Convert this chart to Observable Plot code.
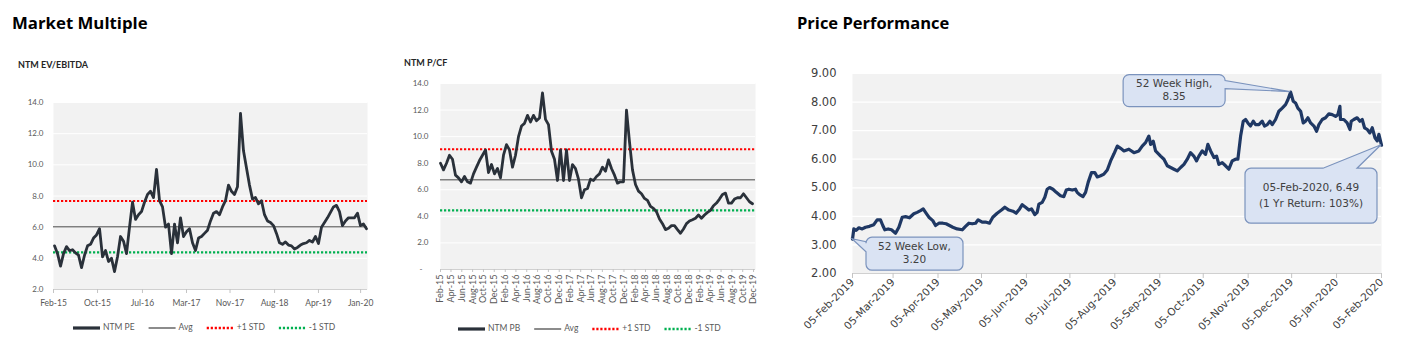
<!DOCTYPE html>
<html><head><meta charset="utf-8">
<script src="https://cdn.jsdelivr.net/npm/d3@7"></script>
<script src="https://cdn.jsdelivr.net/npm/@observablehq/plot@0.6"></script>
<style>
html,body{margin:0;padding:0;background:#fff}
body{width:1404px;height:357px;overflow:hidden;position:relative;font-family:Lato,sans-serif}
.chart{position:absolute}
#overlay{position:absolute;left:0;top:0;pointer-events:none}
</style></head><body>
<div id="ev" class="chart" style="left:0px;top:90px"></div>
<div id="pb" class="chart" style="left:390px;top:75px"></div>
<div id="px" class="chart" style="left:780px;top:60px"></div>
<svg id="overlay" width="1404" height="357"></svg>
<script>
// ---------------- DATA ----------------
// NTM EV/EBITDA (evenly spaced observations, Feb-2015 .. Jan-2020)
const evStart = "2015-02-12", evEnd = "2020-01-30";
const evValues = [4.8,4.3,3.5,4.3,4.75,4.5,4.55,4.35,4.2,3.4, 4.2,4.8,4.9,5.3,5.5,5.9,4.1,4.5,3.8,4.0,
  3.15,4.1,5.4,5.1,4.3,6.0,7.6,6.5,6.8,7.0, 7.6,8.1,8.3,7.9,9.7,7.7,7.3,6.0,6.2,4.3,
  6.2,5.0,6.6,5.4,5.7,5.9,5.0,4.5,5.3,5.4, 5.6,5.8,6.4,
  6.9,7.0,6.8,7.3,7.7,8.7,8.3,8.1,8.6,13.3, 10.9,9.8,8.7,7.8,7.9,7.5,7.7,6.8,6.4,6.3,
  6.1,5.6,5.0,4.9,5.05,4.85,4.8,4.6,4.7,4.85, 4.95,5.0,5.15,5.05,5.4,4.95,6.0,6.3,6.6,6.95,
  7.3,7.4,7.0,6.1,6.4,6.6,6.6,6.6,6.9,6.1, 6.2,5.9];
const evAvg = 6.03, evPlus = 7.68, evMinus = 4.38;
const evTickDates = ["2015-02-06","2015-10-20","2016-07-07","2017-03-20","2017-11-28","2018-08-14","2019-04-26","2019-12-27"];
const evTickLabels = ["Feb-15","Oct-15","Jul-16","Mar-17","Nov-17","Aug-18","Apr-19","Jan-20"];
const evYTicks = [2,4,6,8,10,12,14];
const evLegend = ["NTM PE","Avg","+1 STD","-1 STD"];

// NTM P/CF
const pbStart = "2015-02-01", pbEnd = "2019-11-25";
const pbValues = [8.0,7.5,8.0,8.6,8.3,7.1,6.9,6.6,7.0,6.6, 6.5,7.2,7.7,8.2,8.6,9.0,7.3,7.9,7.2,7.6,
  6.9,8.6,9.4,9.0,7.7,8.6,10.0,10.8,11.0,11.6, 11.1,11.6,11.2,11.4,13.3,11.3,10.9,8.9,8.3,6.7,
  9.0,6.7,9.0,6.7,7.9,7.6,6.8,5.4,6.0,6.1, 6.8,6.7,7.0,7.2,
  7.7,7.4,8.25,7.6,7.1,6.5,6.6,6.6,12.0,9.6, 7.5,6.4,5.9,5.7,5.35,5.2,4.75,4.6,4.35,3.8,
  3.45,3.0,3.1,3.3,3.3,3.0,2.73,3.05,3.45,3.65, 3.75,3.86,4.1,3.86,4.1,4.3,4.45,4.8,5.0,5.3,
  5.65,5.75,5.0,5.0,5.3,5.4,5.4,5.7,5.4,5.1, 4.95];
const pbAvg = 6.75, pbPlus = 9.05, pbMinus = 4.45;
const pbTickLabels = ["Feb-15","Apr-15","Jun-15","Aug-15","Oct-15","Dec-15","Feb-16","Apr-16","Jun-16","Aug-16",
  "Oct-16","Dec-16","Feb-17","Apr-17","Jun-17","Aug-17","Oct-17","Dec-17","Feb-18","Apr-18","Jun-18","Aug-18",
  "Oct-18","Dec-18","Feb-19","Apr-19","Jun-19","Aug-19","Oct-19","Dec-19"];
const pbYTicks = [0,2,4,6,8,10,12,14];
const pbLegend = ["NTM PB","Avg","+1 STD","-1 STD"];

// Price performance (days after 05-Feb-2019, price)
const priceBase = "2019-02-05";
const priceDays = [0,0.9,2.5,4.4,6.7,9.0,11.7,14.7,17.0,19.3, 20.9,22.3,24.6,26.9,29.7,32.0,34.3,36.6,39.3,42.3,
  44.6,46.9,48.8,50.4,52.7,55.4,57.3,59.6,62.3,64.6, 66.9,69.2,72.2,75.7,78.0,80.3,82.6,84.9,86.7,89.5,
  91.8,94.5,96.8,99.8,102.8,105.1,107.9,110.7,112.9,115.3, 117.1,119.4,121.7,123.5,125.8,127.4,128.6,130.9,132.7,134.3,
  136.0,138.3,140.6,143.5,145.8,147.5,149.3,151.6,153.9,155.0, 156.7,159.0,160.8,162.6,164.9,167.2,168.9,171.2,173.5,175.8,
  178.1,180.4, 182.7,185.0,187.3,190.7,194.2,197.6,199.9,202.2,204.5,205.7,
  207.5,209.1,212.6,214.9,217.2,219.5,221.8,224.1,226.4,228.7, 231.0,233.2,235.5,237.4,239.0,241.3,243.6,245.2,247.1,249.4,
  251.2,252.8,255.1,257.4,259.7,262.0,264.3,265.9,267.8,269.6, 271.2,272.8,274.6,276.5,278.1,280.4,282.7,284.3,286.2,288.0,
  289.6,291.9,294.2,296.5,298.8,300.4,302.3,304.1,305.7,307.3, 309.2,311.0,312.6,314.2,316.1,318.4,320.2,321.8,324.1,326.4,
  328.7,331.0,333.3,334.9,336.3,336.7,339.0,341.3,343.2,344.1, 345.9,348.2,350.1,351.7,353.3,355.2,357.0,358.6,360.5,362.1,
  363.2,365];
const priceValues = [3.20,3.56,3.51,3.60,3.56,3.62,3.65,3.71,3.88,3.88, 3.68,3.53,3.56,3.53,3.41,3.62,3.97,3.99,3.95,4.09,
  4.14,4.20,4.26,4.14,3.97,3.85,3.68,3.76,3.76,3.74, 3.68,3.62,3.56,3.53,3.65,3.76,3.74,3.76,3.88,3.80,
  3.80,3.76,3.97,4.11,4.22,4.32,4.22,4.18,4.11,4.26, 4.41,4.32,4.22,4.26,4.06,4.14,4.43,4.49,4.67,4.95,
  5.01,4.95,4.84,4.72,4.69,4.92,4.95,4.92,4.95,4.84, 4.76,4.69,4.84,5.19,5.53,5.53,5.38,5.42,5.48,5.62,
  5.94,6.19, 6.46,6.38,6.29,6.35,6.23,6.29,6.46,6.58,6.81,6.52,
  6.63,6.29,6.11,6.00,5.77,5.71,5.65,5.59,5.71,5.82, 6.00,6.23,6.11,5.94,6.11,6.29,6.17,6.52,6.29,6.06,
  6.11,5.82,5.88,5.77,5.65,5.94,6.00,6.00,6.81,7.33, 7.39,7.27,7.16,7.33,7.21,7.21,7.33,7.16,7.21,7.33,
  7.21,7.39,7.68,7.79,7.91,8.08,8.35,8.03,7.97,7.79, 7.68,7.27,7.33,7.45,7.27,7.16,6.98,7.21,7.39,7.45,
  7.59,7.56,7.50,7.56,7.85,7.39,7.39,7.27,7.04,7.33, 7.39,7.45,7.33,7.39,7.10,7.04,6.92,7.10,6.75,6.64,
  6.87,6.49];
const priceTickLabels = ["05-Feb-2019","05-Mar-2019","05-Apr-2019","05-May-2019","05-Jun-2019","05-Jul-2019",
  "05-Aug-2019","05-Sep-2019","05-Oct-2019","05-Nov-2019","05-Dec-2019","05-Jan-2020","05-Feb-2020"];
const priceYTicks = [2,3,4,5,6,7,8,9];
// callout annotations: anchor (day,value), box offsets from anchor in px, pointer side
const priceNotes = [
  {day:0, value:3.20, lines:["52 Week Low,","3.20"], box:[14,-1.5,111,31.5], side:"left", base:[13,3], gap:13.4},
  {day:302.3, value:8.35, lines:["52 Week High,","8.35"], box:[-167,-17,-65,15], side:"right", base:[-11,-3], gap:13.2},
  {day:365, value:6.49, lines:["05-Feb-2020, 6.49","(1 Yr Return: 103%)"], box:[-136,23.5,-4,78.5], side:"top", base:[-58,-24], gap:15.6}
];

// ---------------- helpers ----------------
const DAY = 864e5;
function spread(values, s, e){
  const a = +new Date(s), b = +new Date(e), n = values.length;
  return values.map((v,i)=>({date:new Date(a + i*(b-a)/(n-1)), value:v}));
}
const evData = spread(evValues, evStart, evEnd);
const pbData = spread(pbValues, pbStart, pbEnd);
const pBase = +new Date(priceBase);
const priceData = priceDays.map((d,i)=>({date:new Date(pBase + d*DAY), value:priceValues[i]}));

const COL_RED = "#ff0000", COL_GREEN = "#00b050", COL_AVG = "#7f7f7f", COL_MAIN = "#2a313a";

// ---------------- Chart 1: EV/EBITDA ----------------
const evTicks = evTickDates.map(d=>new Date(d));
const evLab = new Map(evTicks.map((d,i)=>[+d, evTickLabels[i]]));
const evPlot = Plot.plot({
  width:380, height:225, marginLeft:53, marginRight:13, marginTop:12, marginBottom:26,
  style:{fontFamily:"Lato", fontSize:"8px", color:"#595959", background:"transparent", overflow:"visible"},
  x:{type:"utc", domain:[new Date("2015-02-06"), new Date("2020-02-05")]},
  y:{domain:[2,14]},
  marks:[
    Plot.frame({fill:"#f2f2f2", stroke:"none"}),
    Plot.gridY(evYTicks, {stroke:"#ffffff", strokeOpacity:1, strokeWidth:1}),
    Plot.ruleY([2], {stroke:"#d0d0d0"}),
    Plot.axisX(evTicks, {tickFormat:d=>evLab.get(+d), tickSize:4, tickPadding:6, stroke:"#c4c4c4", fill:"#595959", fontSize:8.5, label:null}),
    Plot.axisY(evYTicks, {tickFormat:d=>d.toFixed(1), tickSize:0, tickPadding:10, fill:"#595959", fontSize:8, label:null}),
    Plot.ruleY([evAvg], {stroke:COL_AVG, strokeWidth:1.5}),
    Plot.ruleY([evPlus], {stroke:COL_RED, strokeWidth:2.2, strokeDasharray:"2.2,1.8"}),
    Plot.ruleY([evMinus], {stroke:COL_GREEN, strokeWidth:2.2, strokeDasharray:"2.2,1.8"}),
    Plot.lineY(evData, {x:"date", y:"value", stroke:COL_MAIN, strokeWidth:2.8, strokeLinejoin:"round"})
  ]
});
document.getElementById("ev").append(evPlot);

// ---------------- Chart 2: P/CF ----------------
const parseMY = d3.utcParse("%b-%y");
const pbTicks = pbTickLabels.map(parseMY);
const pbPlot = Plot.plot({
  width:375, height:245, marginLeft:50, marginRight:10, marginTop:8, marginBottom:51,
  style:{fontFamily:"Lato", fontSize:"8px", color:"#595959", background:"transparent", overflow:"visible"},
  x:{type:"utc", domain:[new Date("2015-02-01"), new Date("2019-12-12")]},
  y:{domain:[0,14]},
  marks:[
    Plot.frame({fill:"#f2f2f2", stroke:"none"}),
    Plot.gridY(pbYTicks, {stroke:"#ffffff", strokeOpacity:1, strokeWidth:1}),
    Plot.ruleY([0], {stroke:"#d0d0d0"}),
    Plot.axisX(pbTicks, {tickFormat:d3.utcFormat("%b-%y"), tickRotate:-90, tickSize:3, tickPadding:2, stroke:"#c4c4c4", fill:"#595959", fontSize:9, label:null}),
    Plot.axisY(pbYTicks, {tickFormat:d=>d===0?"-   ":d.toFixed(1), tickSize:0, tickPadding:12, fill:"#595959", fontSize:8, label:null}),
    Plot.ruleY([pbAvg], {stroke:COL_AVG, strokeWidth:1.5}),
    Plot.ruleY([pbPlus], {stroke:COL_RED, strokeWidth:2.2, strokeDasharray:"2.2,1.8"}),
    Plot.ruleY([pbMinus], {stroke:COL_GREEN, strokeWidth:2.2, strokeDasharray:"2.2,1.8"}),
    Plot.lineY(pbData, {x:"date", y:"value", stroke:COL_MAIN, strokeWidth:2.8, strokeLinejoin:"round"})
  ]
});
document.getElementById("pb").append(pbPlot);

// ---------------- Chart 3: Price performance ----------------
const parseDMY = d3.utcParse("%d-%b-%Y");
const priceTicks = priceTickLabels.map(parseDMY);
const pricePlot = Plot.plot({
  width:624, height:297, marginLeft:72, marginRight:23, marginTop:13, marginBottom:84,
  style:{fontFamily:"DejaVu Sans", fontSize:"10.5px", color:"#404040", background:"transparent", overflow:"visible"},
  x:{type:"utc", domain:[priceTicks[0], priceTicks[priceTicks.length-1]]},
  y:{domain:[2,9]},
  marks:[
    Plot.frame({fill:"#f2f2f2", stroke:"none"}),
    Plot.gridY(priceYTicks, {stroke:"#ffffff", strokeOpacity:1, strokeWidth:1.2}),
    Plot.ruleY([2], {stroke:"#d0d0d0"}),
    Plot.axisX(priceTicks, {tickFormat:d3.utcFormat("%d-%b-%Y"), tickRotate:-45, tickSize:5, tickPadding:2, stroke:"#c4c4c4", fill:"#404040", fontSize:10.5, label:null}),
    Plot.axisY(priceYTicks, {tickFormat:d3.format(".2f"), tickSize:0, tickPadding:16, fill:"#404040", fontSize:11.5, label:null}),
    Plot.lineY(priceData, {x:"date", y:"value", stroke:"#1f3864", strokeWidth:3.2, strokeLinejoin:"round"})
  ]
});
document.getElementById("px").append(pricePlot);

function calloutPath(x0,y0,x1,y1,r,side,b0,b1,tx,ty){
  const p = d3.path();
  p.moveTo(x0+r,y0);
  if(side==="top"){p.lineTo(b0,y0);p.lineTo(tx,ty);p.lineTo(b1,y0);}
  p.lineTo(x1-r,y0); p.arcTo(x1,y0,x1,y0+r,r);
  if(side==="right"){p.lineTo(x1,b0);p.lineTo(tx,ty);p.lineTo(x1,b1);}
  p.lineTo(x1,y1-r); p.arcTo(x1,y1,x1-r,y1,r);
  if(side==="bottom"){p.lineTo(b0,y1);p.lineTo(tx,ty);p.lineTo(b1,y1);}
  p.lineTo(x0+r,y1); p.arcTo(x0,y1,x0,y1-r,r);
  if(side==="left"){p.lineTo(x0,b0);p.lineTo(tx,ty);p.lineTo(x0,b1);}
  p.lineTo(x0,y0+r); p.arcTo(x0,y0,x0+r,y0,r);
  p.closePath();
  return p.toString();
}
{
  const sx = pricePlot.scale("x"), sy = pricePlot.scale("y");
  const svg = d3.select(pricePlot);
  for (const n of priceNotes){
    const px = sx.apply(new Date(pBase + n.day*DAY)), py = sy.apply(n.value);
    const [a,b,c,d] = n.box;
    const x0=px+a, y0=py+b, x1=px+c, y1=py+d;
    const off = (n.side==="top"||n.side==="bottom") ? px : py;
    svg.append("path").attr("d", calloutPath(x0,y0,x1,y1,6,n.side,off+n.base[0],off+n.base[1],px,py))
      .attr("fill","#dae3f3").attr("stroke","#7b93bd").attr("stroke-width",1.2);
    const cx=(x0+x1)/2, cy=(y0+y1)/2;
    n.lines.forEach((t,i)=>{
      svg.append("text").attr("x",cx).attr("y",cy+(i-(n.lines.length-1)/2)*n.gap)
        .attr("text-anchor","middle").attr("dominant-baseline","middle")
        .attr("font-family","DejaVu Sans").attr("font-size","10.5px").attr("fill","#404040").text(t);
    });
  }
}

// ---------------- titles & legends (overlay) ----------------
const ov = d3.select("#overlay");
function txt(x,y,s,opts){
  const t = ov.append("text").attr("x",x).attr("y",y).text(s);
  for (const k in opts) t.attr(k,opts[k]);
  return t;
}
txt(12,29,"Market Multiple",{"font-family":"Open Sans","font-weight":700,"font-size":"16.8px",fill:"#000"});
txt(797,29,"Price Performance",{"font-family":"Open Sans","font-weight":700,"font-size":"16.5px",fill:"#000"});
txt(18,68,"NTM EV/EBITDA",{"font-family":"Lato","font-weight":700,"font-size":"9px",fill:"#262626"});
txt(404,66,"NTM P/CF",{"font-family":"Lato","font-weight":700,"font-size":"9px",fill:"#262626"});

const swatches = [
  {stroke:COL_MAIN, width:3.2, dash:null},
  {stroke:COL_AVG, width:1.8, dash:null},
  {stroke:COL_RED, width:2.4, dash:"2.2,1.8"},
  {stroke:COL_GREEN, width:2.4, dash:"2.2,1.8"}
];
function legend(x, y, labels){
  let cx = x;
  labels.forEach((lab,i)=>{
    const s = swatches[i];
    const l = ov.append("line").attr("x1",cx).attr("x2",cx+27).attr("y1",y).attr("y2",y)
      .attr("stroke",s.stroke).attr("stroke-width",s.width);
    if (s.dash) l.attr("stroke-dasharray",s.dash);
    cx += 30;
    const t = txt(cx,y,lab,{"font-family":"Lato","font-size":"8.5px",fill:"#595959","dominant-baseline":"middle"});
    cx += t.node().getComputedTextLength() + 14;
  });
}
legend(73,328,evLegend);
legend(458,329,pbLegend);
</script>
</body></html>
